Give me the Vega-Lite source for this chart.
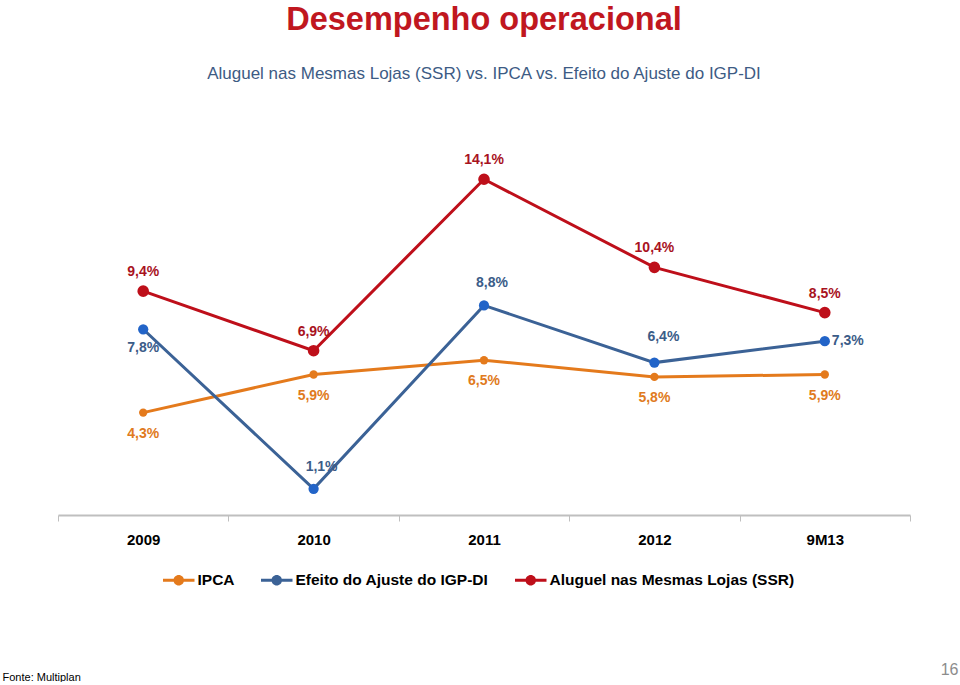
{
  "$schema": "https://vega.github.io/schema/vega-lite/v6.json",
  "width": 852,
  "height": 381,
  "padding": {"left": 2, "top": 3, "right": 2, "bottom": 0},
  "background": "white",
  "title": {
    "text": "Desempenho operacional",
    "subtitle": "Aluguel nas Mesmas Lojas (SSR) vs. IPCA vs. Efeito do Ajuste do IGP-DI",
    "anchor": "middle",
    "frame": "group",
    "font": "Liberation Sans",
    "fontSize": 32.5,
    "fontWeight": "bold",
    "color": "#C0171F",
    "subtitleFont": "Liberation Sans",
    "subtitleFontSize": 17,
    "subtitleColor": "#3D5B84",
    "subtitlePadding": 30,
    "offset": 52
  },
  "data": {
    "values": [
      {"cat": "2009", "serie": "IPCA", "v": 0.043},
      {"cat": "2010", "serie": "IPCA", "v": 0.059},
      {"cat": "2011", "serie": "IPCA", "v": 0.065},
      {"cat": "2012", "serie": "IPCA", "v": 0.058},
      {"cat": "9M13", "serie": "IPCA", "v": 0.059},
      {"cat": "2009", "serie": "Efeito do Ajuste do IGP-DI", "v": 0.078},
      {"cat": "2010", "serie": "Efeito do Ajuste do IGP-DI", "v": 0.011},
      {"cat": "2011", "serie": "Efeito do Ajuste do IGP-DI", "v": 0.088},
      {"cat": "2012", "serie": "Efeito do Ajuste do IGP-DI", "v": 0.064},
      {"cat": "9M13", "serie": "Efeito do Ajuste do IGP-DI", "v": 0.073},
      {"cat": "2009", "serie": "Aluguel nas Mesmas Lojas (SSR)", "v": 0.094},
      {"cat": "2010", "serie": "Aluguel nas Mesmas Lojas (SSR)", "v": 0.069},
      {"cat": "2011", "serie": "Aluguel nas Mesmas Lojas (SSR)", "v": 0.141},
      {"cat": "2012", "serie": "Aluguel nas Mesmas Lojas (SSR)", "v": 0.104},
      {"cat": "9M13", "serie": "Aluguel nas Mesmas Lojas (SSR)", "v": 0.085}
    ]
  },
  "encoding": {
    "x": {
      "field": "cat",
      "type": "nominal",
      "sort": ["2009", "2010", "2011", "2012", "9M13"],
      "scale": {"type": "band", "paddingInner": 0, "paddingOuter": 0},
      "axis": {
        "title": "Fonte: Multiplan",
        "titleFont": "Liberation Sans",
        "titleFontSize": 11,
        "titleFontWeight": "normal",
        "titleColor": "black",
        "titleAlign": "left",
        "titleBaseline": "middle",
        "titleX": -56,
        "titleY": 162,
        "tickBand": "extent",
        "domainColor": "#BFBFBF",
        "domainWidth": 2,
        "tickColor": "#BFBFBF",
        "tickSize": 6,
        "tickWidth": 1,
        "labelFont": "Liberation Sans",
        "labelFontSize": 15,
        "labelFontWeight": "bold",
        "labelColor": "black",
        "labelPadding": 11,
        "labelAngle": 0
      }
    },
    "y": {
      "field": "v",
      "type": "quantitative",
      "scale": {"domain": [0, 0.16]},
      "axis": {
        "orient": "right",
        "domain": false,
        "ticks": false,
        "labels": false,
        "grid": false,
        "title": "16",
        "titleAngle": 0,
        "titleFont": "Liberation Sans",
        "titleFontSize": 16,
        "titleFontWeight": "normal",
        "titleColor": "#8C8C8C",
        "titleAlign": "right",
        "titleBaseline": "middle",
        "titleX": 48,
        "titleY": 535
      }
    }
  },
  "layer": [
    {
      "mark": {"type": "line", "strokeWidth": 3},
      "encoding": {
        "color": {
          "field": "serie",
          "type": "nominal",
          "scale": {
            "domain": ["IPCA", "Efeito do Ajuste do IGP-DI", "Aluguel nas Mesmas Lojas (SSR)"],
            "range": ["#E47A1C", "#3B6296", "#BE0F1A"]
          },
          "legend": {
            "title": null,
            "orient": "none",
            "legendX": 113,
            "legendY": 438,
            "padding": 0,
            "direction": "horizontal",
            "symbolType": "M-3.15,-0.3L3.15,-0.3L3.15,0.3L-3.15,0.3Z M1.05,0A1.05,1.05,0,1,1,-1.05,0A1.05,1.05,0,1,1,1.05,0Z",
            "symbolSize": 100,
            "symbolStrokeWidth": 0,
            "labelFont": "Liberation Sans",
            "labelFontSize": 15.5,
            "labelFontWeight": "bold",
            "labelColor": "black",
            "labelOffset": 11,
            "columnPadding": 26,
            "labelLimit": 400,
            "encode": {
              "symbols": {
                "update": {
                  "fill": {"scale": "color", "field": "value"},
                  "stroke": {"value": "transparent"},
                  "opacity": {"value": 1}
                }
              }
            }
          }
        }
      }
    },
    {
      "transform": [{"filter": "datum.serie === 'IPCA'"}],
      "mark": {"type": "point", "filled": true, "opacity": 1, "size": 70, "color": "#E47A1C"}
    },
    {
      "transform": [{"filter": "datum.serie === 'Efeito do Ajuste do IGP-DI'"}],
      "mark": {"type": "point", "filled": true, "opacity": 1, "size": 105, "color": "#2264C8"}
    },
    {
      "transform": [{"filter": "datum.serie === 'Aluguel nas Mesmas Lojas (SSR)'"}],
      "mark": {"type": "point", "filled": true, "opacity": 1, "size": 135, "color": "#BE0F1A"}
    },
    {
      "transform": [{"filter": "datum.serie === 'Aluguel nas Mesmas Lojas (SSR)'"}],
      "mark": {"type": "text", "dy": -19, "fontSize": 14, "fontWeight": "bold", "color": "#A8121E", "font": "Liberation Sans"},
      "encoding": {"text": {"field": "v", "type": "quantitative", "format": ".1%"}}
    },
    {
      "transform": [{"filter": "datum.serie === 'IPCA'"}],
      "mark": {"type": "text", "dy": 21, "fontSize": 14, "fontWeight": "bold", "color": "#E07A20", "font": "Liberation Sans"},
      "encoding": {"text": {"field": "v", "type": "quantitative", "format": ".1%"}}
    },
    {
      "transform": [{"filter": "datum.serie === 'Efeito do Ajuste do IGP-DI' && datum.cat === '2009'"}],
      "mark": {"type": "text", "dy": 19, "fontSize": 14, "fontWeight": "bold", "color": "#3B5C88", "font": "Liberation Sans"},
      "encoding": {"text": {"field": "v", "type": "quantitative", "format": ".1%"}}
    },
    {
      "transform": [{"filter": "datum.serie === 'Efeito do Ajuste do IGP-DI' && (datum.cat === '2010' || datum.cat === '2011')"}],
      "mark": {"type": "text", "dx": 8, "dy": -22, "fontSize": 14, "fontWeight": "bold", "color": "#3B5C88", "font": "Liberation Sans"},
      "encoding": {"text": {"field": "v", "type": "quantitative", "format": ".1%"}}
    },
    {
      "transform": [{"filter": "datum.serie === 'Efeito do Ajuste do IGP-DI' && datum.cat === '2012'"}],
      "mark": {"type": "text", "dx": 9, "dy": -26, "fontSize": 14, "fontWeight": "bold", "color": "#3B5C88", "font": "Liberation Sans"},
      "encoding": {"text": {"field": "v", "type": "quantitative", "format": ".1%"}}
    },
    {
      "transform": [{"filter": "datum.serie === 'Efeito do Ajuste do IGP-DI' && datum.cat === '9M13'"}],
      "mark": {"type": "text", "dx": 23, "dy": 0, "fontSize": 14, "fontWeight": "bold", "color": "#3B5C88", "font": "Liberation Sans"},
      "encoding": {"text": {"field": "v", "type": "quantitative", "format": ".1%"}}
    }
  ],
  "config": {
    "view": {"stroke": null},
    "font": "Liberation Sans",
    "locale": {
      "number": {"decimal": ",", "thousands": ".", "grouping": [3], "currency": ["R$", ""]}
    }
  }
}
